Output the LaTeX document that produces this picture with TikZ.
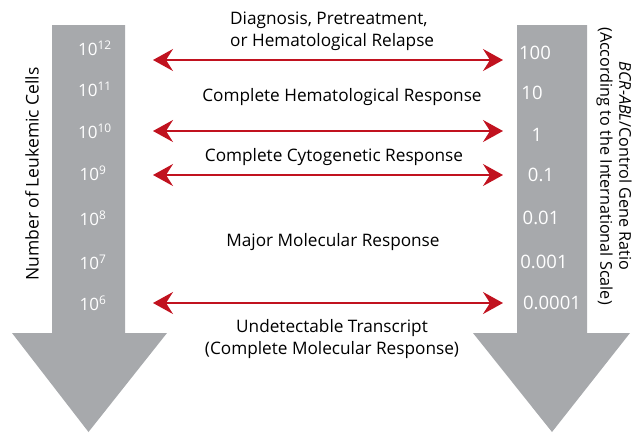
\documentclass[tikz,border=0pt]{standalone}
\usepackage{fontspec}
\setmainfont{Open Sans}
\usetikzlibrary{arrows.meta}
\definecolor{bigarrow}{HTML}{A7A9AC}
\definecolor{redarrow}{HTML}{C1121F}
\tikzset{
  bigdown/.style={fill=bigarrow, draw=none},
  scale label/.style={text=white, font=\fontsize{17}{18}\selectfont, inner sep=0pt},
  ratio label/.style={text=white, font=\fontsize{18.5}{20}\selectfont, inner sep=0pt},
  level/.style={draw=redarrow, line width=2pt, {Stealth[length=20pt,width=22pt,inset=7pt]}-{Stealth[length=20pt,width=22pt,inset=7pt]}, color=redarrow},
  resp/.style={font=\fontsize{17.2}{22}\selectfont, align=center, inner sep=0pt},
  axis title/.style={align=center, inner sep=0pt}
}
\begin{document}
\begin{tikzpicture}[x=1pt,y=-1pt]
\useasboundingbox (0,0) rectangle (635,432);
% big grey arrows
\fill[bigdown] (52,25) -- (125,25) -- (125,333) -- (167,333) -- (88.5,432) -- (12,333) -- (52,333) -- cycle;
\fill[bigdown] (517,25) -- (587,25) -- (587,333) -- (630,333) -- (552,432) -- (473,333) -- (517,333) -- cycle;
% left scale
\node[scale label] (l12) at (95,48) {10\textsuperscript{12}};
\node[scale label] (l11) at (95,89) {10\textsuperscript{11}};
\node[scale label] (l10) at (95,131) {10\textsuperscript{10}};
\node[scale label] (l9) at (93,173) {10\textsuperscript{9}};
\node[scale label] (l8) at (93,218) {10\textsuperscript{8}};
\node[scale label] (l7) at (93,262) {10\textsuperscript{7}};
\node[scale label] (l6) at (93,303) {10\textsuperscript{6}};
% right scale
\node[ratio label] (r100) at (535,53) {100};
\node[ratio label] (r10) at (532,93) {10};
\node[ratio label] (r1) at (537,135) {1};
\node[ratio label] (r01) at (541,175) {0.1};
\node[ratio label] (r001) at (541,218) {0.01};
\node[ratio label] (r0001) at (544,262) {0.001};
\node[ratio label] (r00001) at (552,303) {0.0001};
% axis titles
\node[axis title, rotate=90, font=\fontsize{17.5}{20}\selectfont] (ltitle) at (32,174) {Number of Leukemic Cells};
\node[axis title, rotate=-90, font=\fontsize{16.2}{19}\selectfont] (rtitle) at (614,166) {\textit{BCR-ABL}/Control Gene Ratio\\(According to the International Scale)};
% red arrow end points
\coordinate (a1l) at (153,60);  \coordinate (a1r) at (503,60);
\coordinate (a2l) at (153,131); \coordinate (a2r) at (503,131);
\coordinate (a3l) at (153,175); \coordinate (a3r) at (503,175);
\coordinate (a4l) at (153,303); \coordinate (a4r) at (503,303);
\draw[level] (a1l) -- (a1r);
\draw[level] (a2l) -- (a2r);
\draw[level] (a3l) -- (a3r);
\draw[level] (a4l) -- (a4r);
% response labels
\node[resp, align=left, anchor=west] (diag) at (230,31) {Diagnosis, Pretreatment,\\or Hematological Relapse};
\node[resp] (chr) at (342,97) {Complete Hematological Response};
\node[resp] (ccr) at (334,157) {Complete Cytogenetic Response};
\node[resp] (mmr) at (333,242) {Major Molecular Response};
\node[resp] (cmr) at (332,339) {Undetectable Transcript\\(Complete Molecular Response)};
\end{tikzpicture}
\end{document}
